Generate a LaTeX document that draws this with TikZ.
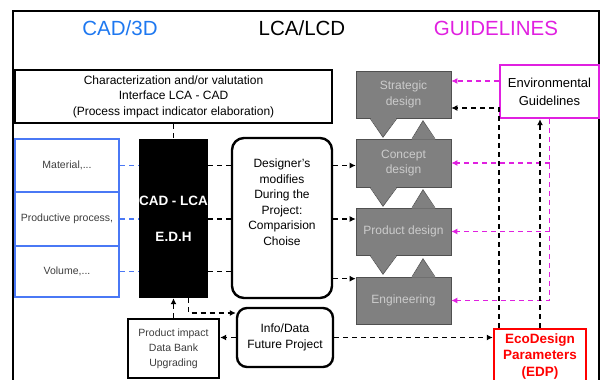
\documentclass[tikz,border=0pt]{standalone}
\usepackage{fontspec}
\setmainfont{Liberation Sans}
\usetikzlibrary{arrows.meta,calc}
\definecolor{cadblue}{HTML}{1E78F0}
\definecolor{boxblue}{HTML}{4A78F5}
\definecolor{guidemag}{HTML}{E020E0}
\definecolor{edpred}{HTML}{FF0000}
\definecolor{stagefill}{HTML}{808080}
\definecolor{stageedge}{HTML}{505050}
\definecolor{stagetext}{HTML}{CCCCCC}
\definecolor{softtext}{HTML}{3C3C3C}

\begin{document}
\begin{tikzpicture}[x=1pt,y=-1pt,>={Latex[length=6pt,width=6pt]},
    every node/.style={inner sep=0pt,align=center},
    ttl/.style={font=\fontsize{20.5}{24}\selectfont},
    txt/.style={font=\fontsize{12}{15.5}\selectfont},
    smalltxt/.style={font=\fontsize{10.5}{15}\selectfont,text=softtext},
    blk/.style={draw,line width=2.4pt},
    bluebox/.style={draw=boxblue,line width=2.4pt,minimum width=104pt,smalltxt},
    stage/.style={draw=stageedge,line width=0.6pt,fill=stagefill,text=stagetext,
      minimum width=95pt,minimum height=47pt,txt},
    dashlink/.style={line width=1.4pt,dash pattern=on 5pt off 4pt}]
    \useasboundingbox (0,0) rectangle (606,380);
    \draw[line width=1.8pt] (13,390) -- (13,11) -- (599,11) -- (599,390);
    % column titles
    \node[ttl,text=cadblue] (tcad) at (120,28) {CAD/3D};
    \node[ttl] (tlca) at (302,28) {LCA/LCD};
    \node[ttl,text=guidemag] (tguide) at (496,28) {GUIDELINES};
    % LCA side
    \node[blk,minimum width=317pt,minimum height=53pt,txt] (charac) at (173.5,96.5)
      {Characterization and/or valutation\\Interface LCA - CAD\\(Process impact indicator elaboration)};
    \node[bluebox,minimum height=53pt] (mat) at (67,165.5) {Material,...};
    \node[bluebox,minimum height=54pt] (proc) at (67,219) {Productive process,};
    \node[bluebox,minimum height=51pt] (vol) at (67,271.5) {Volume,...};
    \node[fill=black,text=white,minimum width=69pt,minimum height=159pt,
      font=\fontsize{13.5}{16}\selectfont\bfseries] (edh) at (173.5,218.5) {CAD - LCA\\[20pt]E.D.H};
    \node[blk,rounded corners=12pt,minimum width=100pt,minimum height=160pt] (design) at (282,218) {};
    \node[txt] (designtxt) at (282,202) {Designer's\\modifies\\During the\\Project:\\Comparision\\Choise};
    \node[blk,rounded corners=10pt,minimum width=96pt,minimum height=59pt,txt] (info) at (285,337.5)
      {Info/Data\\Future Project};
    \node[blk,minimum width=91pt,minimum height=59pt,smalltxt] (impact) at (173.5,348.5)
      {Product impact\\Data Bank\\Upgrading};
    % design stages
    \node[stage] (strat) at (403.5,94.5) {Strategic\\design};
    \node[stage,minimum height=48pt] (concept) at (403.5,163) {Concept\\design};
    \node[stage] (proddes) at (403.5,231.5) {Product design};
    \node[stage] (engin) at (403.5,300.5) {Engineering};
    \foreach \nm in {strat,concept,proddes}{
      \fill[stagefill] ([xshift=-33.5pt,yshift=0.8pt]\nm.south) -- ([xshift=-20.5pt,yshift=-19pt]\nm.south)
        -- ([xshift=-6.5pt,yshift=0.8pt]\nm.south) -- cycle;
      \draw[stageedge,line width=0.6pt] ([xshift=-33.5pt]\nm.south) -- ([xshift=-20.5pt,yshift=-19pt]\nm.south)
        -- ([xshift=-6.5pt]\nm.south);}
    \foreach \nm in {concept,proddes,engin}{
      \fill[stagefill] ([xshift=8.5pt,yshift=-0.8pt]\nm.north) -- ([xshift=19.5pt,yshift=18pt]\nm.north)
        -- ([xshift=31.5pt,yshift=-0.8pt]\nm.north) -- cycle;
      \draw[stageedge,line width=0.6pt] ([xshift=8.5pt]\nm.north) -- ([xshift=19.5pt,yshift=18pt]\nm.north)
        -- ([xshift=31.5pt]\nm.north);}
    % guidelines side
    \node[draw=guidemag,line width=2.4pt,minimum width=99pt,minimum height=53pt,
      font=\fontsize{13}{18}\selectfont] (env) at (549.5,91.5) {Environmental\\Guidelines};
    \node[draw=edpred,line width=2.4pt,text=edpred,minimum width=92pt,minimum height=55pt,
      font=\fontsize{13.5}{16.5}\selectfont\bfseries] (edp) at (540,356.5) {EcoDesign\\Parameters\\(EDP)};
    % connectors
    \draw[dashlink] (charac.south) -- (edh.north);
    \foreach \src in {mat,proc,vol}{
      \draw[dashlink,boxblue] (\src.east) -- (\src.east -| edh.west);
      \draw[dashlink] (\src.east -| edh.east) -- (\src.east -| design.west);}
    \coordinate (enginin) at ([yshift=-2pt]engin.north west);
    \draw[dashlink,->] (design.east |- mat.east) -- (mat.east -| concept.west);
    \draw[dashlink,->] (design.east |- proc.east) -- (proc.east -| proddes.west);
    \draw[dashlink,->] (design.east |- enginin) -- (enginin);
    \coordinate (envout) at ([yshift=10.5pt]env.west);
    \draw[dashlink,guidemag,->] (envout) -- (envout -| strat.east);
    \coordinate (edpleft) at ([xshift=6pt]edp.north west);
    \coordinate (stratin) at ([yshift=-13.5pt]strat.east);
    \draw[dashlink,->] (edpleft) |- (stratin);
    \draw[dashlink,guidemag,->] (env.south) |- (engin.east);
    \draw[dashlink,guidemag,->] (env.south |- concept.east) -- (concept.east);
    \draw[dashlink,guidemag,->] (env.south |- proddes.east) -- (proddes.east);
    \draw[dashlink,->] (edp.north) -- (edp.north |- env.south);
    \coordinate (edhout) at ([xshift=15pt]edh.south);
    \coordinate (infoin) at ([yshift=24.5pt]info.west);
    \draw[dashlink,->] (edhout) |- (infoin);
    \draw[dashlink,->] (impact.north) -- (edh.south);
    \draw[dashlink,->] (info.west) -- (info.west -| impact.east);
    \draw[dashlink,->] (info.east) -- (info.east -| edp.west);
  \end{tikzpicture}
\end{document}
